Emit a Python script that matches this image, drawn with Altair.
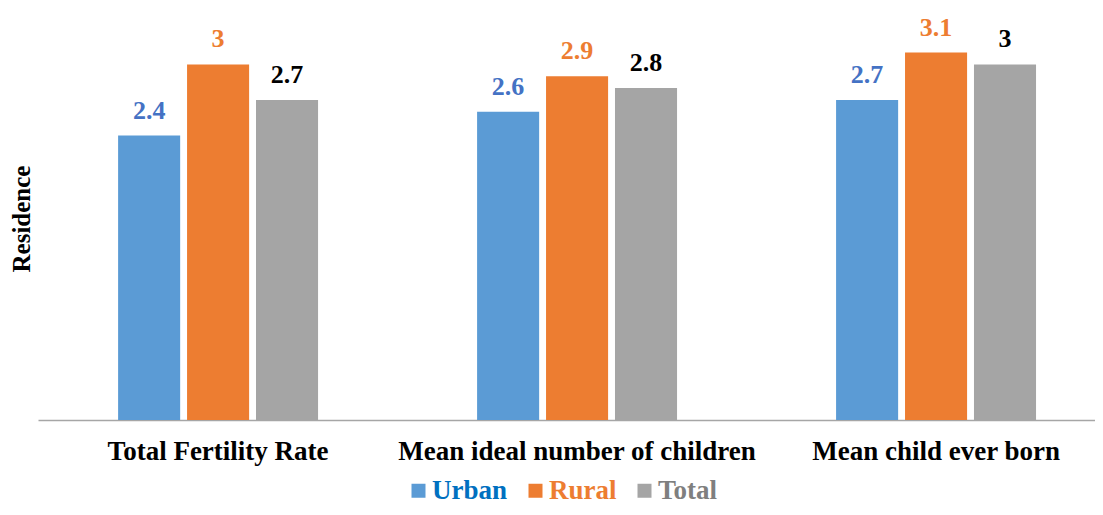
import altair as alt
import pandas as pd

categories = ["Total Fertility Rate", "Mean ideal number of children", "Mean child ever born"]
series = ["Urban", "Rural", "Total"]
urban = [2.4, 2.6, 2.7]
rural = [3, 2.9, 3.1]
total = [2.7, 2.8, 3]

bar_colors = ["#5B9BD5", "#ED7D31", "#A5A5A5"]
label_colors = ["#4472C4", "#ED7D31", "#000000"]

rows = []
for i, c in enumerate(categories):
    for s, vals in zip(series, [urban, rural, total]):
        rows.append({"Category": c, "Series": s, "Value": vals[i]})
df = pd.DataFrame(rows)

FONT = "Liberation Serif"

x = alt.X("Category:N", sort=categories, title=None,
          scale=alt.Scale(paddingInner=0.443, paddingOuter=0.1937, align=0.576),
          axis=alt.Axis(labelAngle=0, labelFont=FONT, labelFontSize=27, labelFontWeight="bold",
                        labelColor="#000000", ticks=False, labelPadding=18, labelLimit=0,
                        domainColor="#A6A6A6", domainWidth=1.3))
xo = alt.XOffset("Series:N", sort=series, scale=alt.Scale(paddingInner=0.1, paddingOuter=0))
y = alt.Y("Value:Q", scale=alt.Scale(domain=[0, 3.4], nice=False, zero=True),
          axis=alt.Axis(title="Residence", titleFont=FONT, titleFontSize=25, titleFontWeight="bold",
                        titleColor="#000000", labels=False, ticks=False, domain=False, grid=False,
                        titlePadding=4))

legend_expr = ("datum.label == 'Urban' ? '#0070C0' : datum.label == 'Rural' ? '#ED7D31' : '#7F7F7F'")

bars = alt.Chart(df).mark_bar().encode(
    x=x, xOffset=xo, y=y,
    color=alt.Color("Series:N", sort=series,
                    scale=alt.Scale(domain=series, range=bar_colors),
                    legend=alt.Legend(orient="none", legendX=367, legendY=460,
                                      direction="horizontal", title=None,
                                      symbolType="square", symbolSize=196, symbolStrokeWidth=0,
                                      labelFont=FONT, labelFontSize=27, labelFontWeight="bold",
                                      labelColor={"expr": legend_expr}, labelOffset=0,
                                      columnPadding=14, symbolOpacity=1, labelLimit=0))
)

labels = alt.Chart(df).mark_text(font=FONT, fontSize=26, fontWeight="bold",
                                 baseline="alphabetic", dy=-17).encode(
    x=x, xOffset=xo, y=y,
    text=alt.Text("Value:Q"),
    color=alt.Color("Series:N", sort=series,
                    scale=alt.Scale(domain=series, range=label_colors), legend=None)
)

chart = alt.layer(bars, labels).resolve_scale(color="independent").properties(
    width=1057, height=403,
    autosize=alt.AutoSizeParams(type="none"),
    padding={"left": 30, "top": 9, "right": 0, "bottom": 87},
).configure_view(strokeWidth=0)

chart.save("out.html", embed_options={"renderer": "svg", "actions": False})
